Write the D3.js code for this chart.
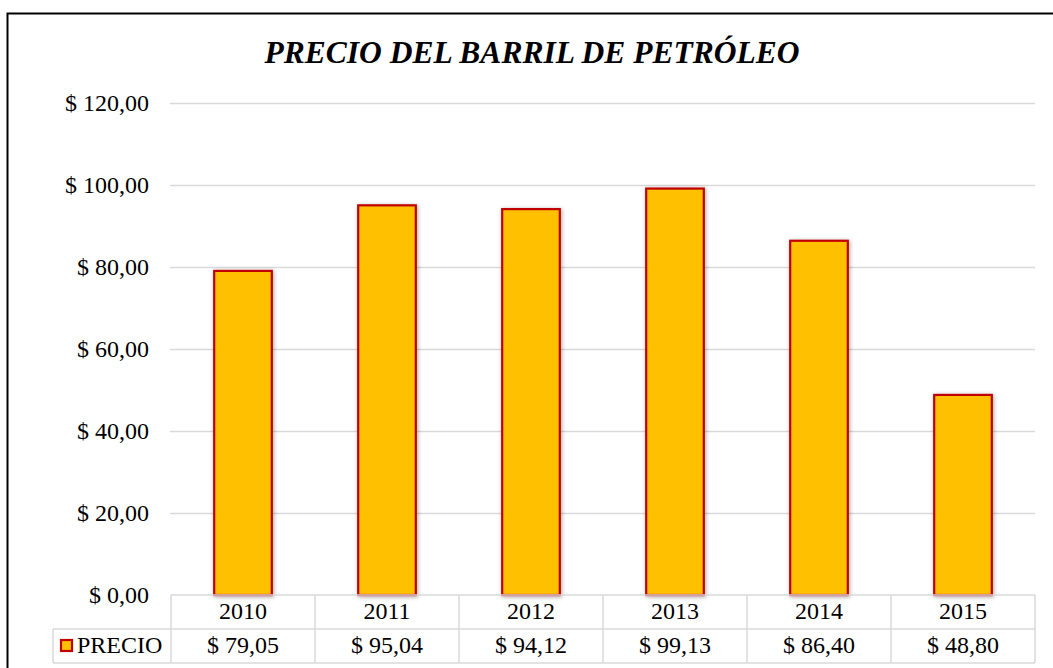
<!DOCTYPE html>
<html>
<head>
<meta charset="utf-8">
<script src="https://cdn.jsdelivr.net/npm/d3@7"></script>
<style>
  body { margin: 0; background: #fff; }
  text { font-family: "Liberation Serif", "Times New Roman", "DejaVu Serif", serif; }
</style>
</head>
<body>
<svg id="chart" width="1053" height="668"></svg>
<script>
const years = ["2010", "2011", "2012", "2013", "2014", "2015"]
const prices = [79.05, 95.04, 94.12, 99.13, 86.40, 48.80]
const yTicks = [0, 20, 40, 60, 80, 100, 120]
const seriesName = "PRECIO"
const title = "PRECIO DEL BARRIL DE PETRÓLEO"

const fmt = v => "$ " + v.toFixed(2).replace(".", ",")
const serif = "'Liberation Serif', 'Times New Roman', 'DejaVu Serif', serif"

const svg = d3.select("#chart")
const margin = {left: 171, right: 18, top: 103, bottom: 73}
const width = 1053 - margin.left - margin.right
const height = 668 - margin.top - margin.bottom

let x = d3.scaleBand().domain(years).range([margin.left, margin.left + width]).paddingInner(0.6).paddingOuter(0.3)
let cols = d3.scaleBand().domain(years).range([margin.left, margin.left + width])
let y = d3.scaleLinear().domain([0, 120]).range([margin.top + height, margin.top])

// outer frame
svg.append("rect")
    .attr("x", 7.5).attr("y", 13.5)
    .attr("width", 1100).attr("height", 700)
    .attr("fill", "none").attr("stroke", "#000").attr("stroke-width", 2)

svg.append("text")
    .attr("x", 532).attr("y", 63)
    .attr("text-anchor", "middle")
    .attr("font-family", serif)
    .style("font-size", "31.5px").style("font-weight", "bold").style("font-style", "italic")
    .text(title)

let defs = svg.append("defs")
defs.append("filter").attr("id", "shadow")
    .attr("x", "-30%").attr("y", "-10%").attr("width", "160%").attr("height", "120%")
    .append("feDropShadow")
    .attr("dx", 1).attr("dy", 1).attr("stdDeviation", 2)
    .attr("flood-color", "#000").attr("flood-opacity", 0.35)

// gridlines + y labels
let yAxis = svg.append("g")
yAxis.selectAll("line").data(yTicks.filter(d => d > 0)).enter().append("line")
    .attr("x1", margin.left - 1).attr("x2", margin.left + width)
    .attr("y1", d => Math.round(y(d)) + 0.5).attr("y2", d => Math.round(y(d)) + 0.5)
    .attr("stroke", "#d9d9d9").attr("stroke-width", 1.5)
yAxis.selectAll("text").data(yTicks).enter().append("text")
    .attr("x", 149).attr("y", d => y(d) + 8)
    .attr("text-anchor", "end")
    .attr("font-family", serif)
    .style("font-size", "24px")
    .text(d => fmt(d))

// bars
svg.append("g").selectAll("rect").data(prices).enter().append("rect")
    .attr("x", (d, i) => x(years[i]))
    .attr("y", d => y(d))
    .attr("width", x.bandwidth())
    .attr("height", d => y(0) - y(d))
    .attr("fill", "#FFC000").attr("stroke", "#C00000").attr("stroke-width", 2.2)
    .attr("filter", "url(#shadow)")

// data table
let tableTop = y(0), rowH = 34
let table = svg.append("g").attr("stroke", "#d9d9d9").attr("stroke-width", 1.5).attr("fill", "none")
table.append("line").attr("x1", margin.left).attr("x2", margin.left + width).attr("y1", tableTop).attr("y2", tableTop)
table.append("line").attr("x1", 53).attr("x2", margin.left + width).attr("y1", tableTop + rowH).attr("y2", tableTop + rowH)
table.append("line").attr("x1", 53).attr("x2", margin.left + width).attr("y1", tableTop + 2 * rowH).attr("y2", tableTop + 2 * rowH)
table.append("line").attr("x1", 53).attr("x2", 53).attr("y1", tableTop + rowH).attr("y2", tableTop + 2 * rowH)
table.selectAll(".v").data(years.concat(["end"])).enter().append("line")
    .attr("x1", d => d === "end" ? margin.left + width : cols(d))
    .attr("x2", d => d === "end" ? margin.left + width : cols(d))
    .attr("y1", tableTop).attr("y2", tableTop + 2 * rowH)

let cells = svg.append("g").attr("font-family", serif).style("font-size", "24px").attr("text-anchor", "middle")
cells.selectAll(".yr").data(years).enter().append("text")
    .attr("x", d => cols(d) + cols.bandwidth() / 2).attr("y", tableTop + 24)
    .text(d => d)
cells.selectAll(".val").data(prices).enter().append("text")
    .attr("x", (d, i) => cols(years[i]) + cols.bandwidth() / 2).attr("y", tableTop + rowH + 24)
    .text(d => fmt(d))

// legend key
svg.append("rect")
    .attr("x", 61).attr("y", tableTop + rowH + 11).attr("width", 11).attr("height", 11)
    .attr("fill", "#FFC000").attr("stroke", "#C00000").attr("stroke-width", 2.2)
svg.append("text")
    .attr("x", 77).attr("y", tableTop + rowH + 24)
    .attr("font-family", serif)
    .style("font-size", "24px")
    .text(seriesName)
</script>
</body>
</html>
